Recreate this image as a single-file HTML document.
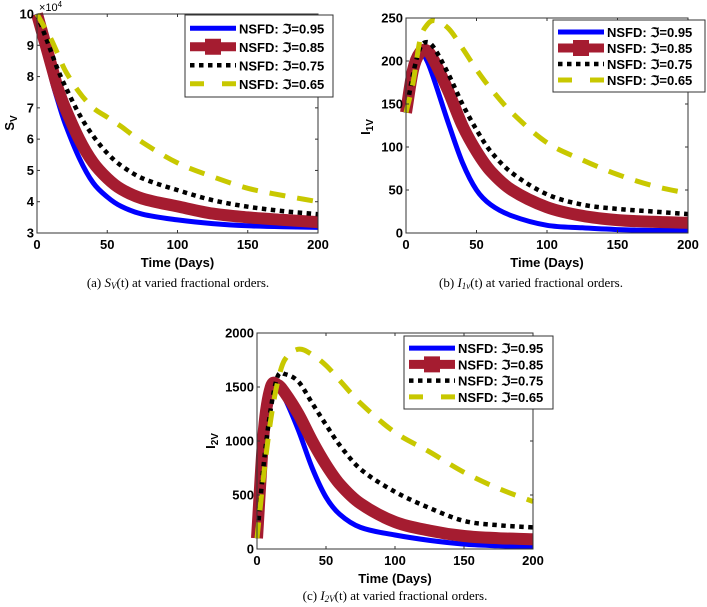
<!DOCTYPE html>
<html><head><meta charset="utf-8">
<style>
body{margin:0;background:#fff;}
svg{display:block;font-family:"Liberation Sans",sans-serif;}
.tk{font-size:13px;font-weight:bold;fill:#000;}
.cap{font-family:"Liberation Serif",serif;font-size:13px;fill:#000;}
.lg{font-size:13px;font-weight:bold;fill:#000;}
</style></head>
<body>
<svg id="fig" width="707" height="607" viewBox="0 0 707 607"></svg>
<script>
const times=[0,5,10,15,20,30,40,50,60,75,100,125,150,175,200];
const orders=["0.95","0.85","0.75","0.65"];
const svA95=[10,9.0,8.0,7.2,6.5,5.4,4.6,4.15,3.85,3.6,3.42,3.3,3.23,3.2,3.18];
const svA85=[10,9.2,8.4,7.6,7.0,6.0,5.25,4.75,4.4,4.1,3.85,3.62,3.5,3.42,3.35];
const svA75=[10,9.4,8.8,8.2,7.7,6.8,6.1,5.55,5.15,4.75,4.37,4.05,3.84,3.7,3.6];
const svA65=[10,9.6,9.2,8.7,8.2,7.5,7.0,6.7,6.4,5.9,5.24,4.8,4.43,4.2,4.0];
const i1B95=[140,200,212,200,178,128,82,50,33,20,9,6,4,3,3];
const i1B85=[140,190,210,212,200,165,125,95,72,50,30,20,15,13,12];
const i1B75=[140,185,215,222,215,185,150,120,95,70,45,33,28,25,22];
const i1B65=[140,175,225,242,247,238,215,190,168,140,105,85,68,55,46];
const i2C95=[100,950,1350,1500,1400,1100,750,480,320,200,130,80,45,30,20];
const i2C85=[100,1100,1500,1520,1450,1250,1000,780,600,420,250,170,120,100,90];
const i2C75=[100,800,1300,1600,1620,1550,1350,1150,960,740,530,380,260,220,200];
const i2C65=[100,700,1200,1550,1750,1850,1800,1700,1560,1350,1080,900,710,560,440];
const xTicks=[0,50,100,150,200];
const yTicksA=[3,4,5,6,7,8,9,10];
const yTicksB=[0,50,100,150,200,250];
const yTicksC=[0,500,1000,1500,2000];

const NS="http://www.w3.org/2000/svg";
const fig=document.getElementById('fig');
function mk(tag,attrs,parent,text){const e=document.createElementNS(NS,tag);for(const k in attrs)e.setAttribute(k,attrs[k]);if(text!==undefined)e.textContent=text;(parent||fig).appendChild(e);return e;}
const styles=[
 {stroke:"#0000ff",w:5,dash:null},
 {stroke:"#a51c30",w:12,dash:null},
 {stroke:"#000",w:4.5,dash:"4.5 4.5"},
 {stroke:"#c8c800",w:5,dash:"16 12"}];

function smoothPath(P){
  let d='M'+P[0][0].toFixed(1)+','+P[0][1].toFixed(1);
  for(let i=0;i<P.length-1;i++){
    const p0=P[Math.max(0,i-1)],p1=P[i],p2=P[i+1],p3=P[Math.min(P.length-1,i+2)];
    const dx=p2[0]-p1[0];
    const m1=(p2[1]-p0[1])/(p2[0]-p0[0]);
    const m2=(p3[1]-p1[1])/(p3[0]-p1[0]);
    const a=[p1[0]+dx/3,p1[1]+m1*dx/3];
    const b=[p2[0]-dx/3,p2[1]-m2*dx/3];
    d+=' C'+a[0].toFixed(1)+','+a[1].toFixed(1)+' '+b[0].toFixed(1)+','+b[1].toFixed(1)+' '+p2[0].toFixed(1)+','+p2[1].toFixed(1);
  }
  return d;
}

function panel(id,L,R,T,B,ymin,ymax,yTicks,series,legend,ylab,ysub,cap,capX,capY,capSub,capRest,exp){
  const g=mk('g',{},fig);
  
  
  const sx=t=>L+(t-0)/(200-0)*(R-L);
  const sy=v=>B-(v-ymin)/(ymax-ymin)*(B-T);
  const clip=mk('clipPath',{id:id+'-clip'},g);
  mk('rect',{x:L-8,y:T-8,width:R-L+18,height:B-T+16},clip);
  series.forEach((arr,i)=>{
    const s=styles[i];
    const P=times.map((t,j)=>[sx(t),sy(arr[j])]);
    const p=mk('path',{d:smoothPath(P),fill:'none',stroke:s.stroke,'stroke-width':s.w,'stroke-linejoin':'round','clip-path':'url(#'+id+'-clip)'},g);
    if(s.dash)p.setAttribute('stroke-dasharray',s.dash);
    
    
  });
  const frame=mk('rect',{x:L,y:T,width:R-L,height:B-T,fill:'none',stroke:'#333','stroke-width':1},g);
  
  
  xTicks.forEach(t=>{
    const x=sx(t);
    mk('line',{x1:x,y1:B,x2:x,y2:B-3,stroke:'#333'},g);
    mk('line',{x1:x,y1:T,x2:x,y2:T+3,stroke:'#333'},g);
    const tx=mk('text',{x:x,y:B+16,'text-anchor':'middle',class:'tk'},g,String(t));
    
    
  });
  yTicks.forEach(v=>{
    const y=sy(v);
    mk('line',{x1:L,y1:y,x2:L+3,y2:y,stroke:'#333'},g);
    mk('line',{x1:R,y1:y,x2:R-3,y2:y,stroke:'#333'},g);
    const tx=mk('text',{x:L-3,y:y+4.5,'text-anchor':'end',class:'tk'},g,String(v));
    
    
  });
  const xt=mk('text',{x:(L+R)/2,y:B+34,'text-anchor':'middle',class:'tk','font-size':'13'},g,'Time (Days)');
  
  
  const yt=mk('text',{transform:`translate(${ylab[0]},${ylab[1]}) rotate(-90)`,'text-anchor':'middle',class:'tk','font-size':'14'},g);
  
  
  mk('tspan',{},yt,ysub[0]);
  mk('tspan',{'font-size':'10',dy:'3'},yt,ysub[1]);
  if(exp){
    const et=mk('text',{x:L+2,y:T-3,'font-size':'11',fill:'#000'},g,'\u00d710');
    
    
    mk('tspan',{'font-size':'8',dy:'-4'},et,'4');
  }
  const [lx,ly,lw,lh]=legend;
  const lg=mk('g',{},g);
  
  
  mk('rect',{x:lx,y:ly,width:lw,height:lh,fill:'#fff',stroke:'#333','stroke-width':1},lg);
  const step=(lh-8)/4;
  orders.forEach((o,i)=>{
    const s=styles[i];
    const yy=ly+4+step*(i+0.5);
    const e=mk('g',{},lg);
    
    
    const ln=mk('line',{x1:lx+5,y1:yy,x2:lx+51,y2:yy,stroke:s.stroke,'stroke-width':i==1?9:s.w},e);
    if(s.dash)ln.setAttribute('stroke-dasharray',i==3?'14 18':s.dash);
    if(i==1)mk('rect',{x:lx+20,y:yy-8,width:16,height:16,fill:s.stroke},e);
    mk('text',{x:lx+54,y:yy+5,class:'lg'},e,'NSFD: \u2111=' + o);
  });
  const c=mk('text',{x:capX,y:capY,'text-anchor':'middle',class:'cap'},g);
  
  
  mk('tspan',{},c,cap);
  mk('tspan',{'font-style':'italic'},c,capSub[0]);
  mk('tspan',{'font-size':'9',dy:'2','font-style':'italic'},c,capSub[1]);
  mk('tspan',{dy:'-2'},c,capRest);
}
panel('panel-a-sv',37,318,14,233,3,10,yTicksA,[svA95,svA85,svA75,svA65],[185,15,148,82],[14,123],['S','V'],'(a) ',178,287,['S','V'],'(t) at varied fractional orders.',true);
panel('panel-b-i1v',406,688,18,233,0,250,yTicksB,[i1B95,i1B85,i1B75,i1B65],[553,20,152,72],[370,127],['I','1V'],'(b) ',531,287,['I','1v'],'(t) at varied fractional orders.',false);
panel('panel-c-i2v',257,533,333,549,0,2000,yTicksC,[i2C95,i2C85,i2C75,i2C65],[404,336,149,73],[215,441],['I','2V'],'(c) ',395,600,['I','2V'],'(t) at varied fractional orders.',false);
</script>
</body></html>
